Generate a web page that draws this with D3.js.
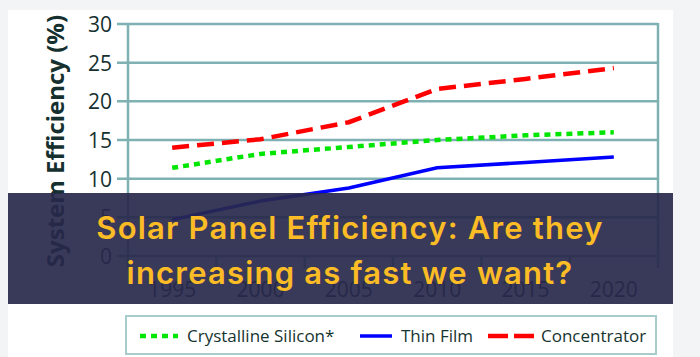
<!DOCTYPE html>
<html><head><meta charset="utf-8">
<script src="https://cdn.jsdelivr.net/npm/d3@7"></script>
<style>html,body{margin:0;padding:0;background:#f3f4f6;}svg{display:block;}</style>
</head><body>
<svg id="c" width="700" height="357"></svg>
<script>
const years = [1995, 2000, 2005, 2010, 2015, 2020];
const yTicks = [0, 5, 10, 15, 20, 25, 30];
const crystalline = [11.4, 13.2, 14.1, 15.0, 15.6, 16.0];
const thinFilm = [4.7, 7.1, 8.8, 11.4, 12.1, 12.8];
const concentrator = [14.0, 15.1, 17.3, 21.6, 22.9, 24.3];
const seriesNames = ["Crystalline Silicon*", "Thin Film", "Concentrator"];
const titleLines = ["Solar Panel Efficiency: Are they", "increasing as fast we want?"];
const yLabel = "System Efficiency (%)";

const svg = d3.select("#c");
const grid = "#7fb0b2";
// card
svg.append("rect").attr("x", 8).attr("y", 10).attr("width", 665).attr("height", 347).attr("fill", "#fff");

const x = d3.scaleBand().domain(years).range([128, 658]);
const y = d3.scaleLinear().domain([0, 30]).range([256, 24]);
const xc = d => x(d) + x.bandwidth() / 2;

// grid lines + y ticks
svg.append("g").selectAll("line").data(yTicks).join("line")
  .attr("x1", 117).attr("x2", 658).attr("y1", d => y(d)).attr("y2", d => y(d))
  .attr("stroke", grid).attr("stroke-width", 2.5);
// left axis
svg.append("line").attr("x1", 128).attr("x2", 128).attr("y1", y(30)).attr("y2", 268)
  .attr("stroke", grid).attr("stroke-width", 2.5);
// right border
svg.append("line").attr("x1", 658).attr("x2", 658).attr("y1", y(30) - 1).attr("y2", 268)
  .attr("stroke", grid).attr("stroke-width", 2.5);
// x ticks at band edges
svg.append("g").selectAll("line").data(years.slice(1)).join("line")
  .attr("x1", d => x(d)).attr("x2", d => x(d)).attr("y1", 256).attr("y2", 268)
  .attr("stroke", grid).attr("stroke-width", 2.5);

// y tick labels
svg.append("g").selectAll("text").data(yTicks).join("text")
  .attr("x", 112).attr("y", d => y(d) + 8).attr("text-anchor", "end")
  .attr("font-family", "Open Sans, sans-serif").attr("font-size", 21).attr("fill", "#15302e")
  .text(d => d);
// x tick labels
svg.append("g").selectAll("text").data(years).join("text")
  .attr("x", d => xc(d)).attr("y", 297).attr("text-anchor", "middle")
  .attr("font-family", "Open Sans, sans-serif").attr("font-size", 21).attr("fill", "#15302e")
  .text(d => d);
// y axis label
svg.append("text").attr("transform", "translate(64,141) rotate(-90)").attr("text-anchor", "middle")
  .attr("font-family", "Open Sans, sans-serif").attr("font-weight", 700).attr("font-size", 24).attr("fill", "#15302e")
  .text(yLabel);

const line = d3.line().x((d, i) => xc(years[i])).y(d => y(d));
const styles = [
  {data: crystalline, color: "#00e600", dash: "6,5", w: 4.5},
  {data: thinFilm, color: "#0000ff", dash: null, w: 3.5},
  {data: concentrator, color: "#ff0000", dash: "17,8", w: 4.5}
];
styles.forEach(s => {
  svg.append("path").attr("d", line(s.data)).attr("fill", "none")
    .attr("stroke", s.color).attr("stroke-width", s.w).attr("stroke-dasharray", s.dash);
});

// legend
svg.append("rect").attr("x", 126).attr("y", 316).attr("width", 530).attr("height", 38)
  .attr("fill", "#fff").attr("stroke", "#a7cccb").attr("stroke-width", 2);
const legPos = [{x1: 140, x2: 178, tx: 187}, {x1: 360, x2: 392, tx: 401}, {x1: 488, x2: 534, tx: 541}];
styles.forEach((s, i) => {
  const p = legPos[i];
  svg.append("line").attr("x1", p.x1).attr("x2", p.x2).attr("y1", 336).attr("y2", 336)
    .attr("stroke", s.color).attr("stroke-width", s.w).attr("stroke-dasharray", i === 2 ? "20,6" : s.dash);
  svg.append("text").attr("x", p.tx).attr("y", 342)
    .attr("font-family", "Open Sans, sans-serif").attr("font-size", 17).attr("fill", "#163430")
    .text(seriesNames[i]);
});

// overlay banner
svg.append("rect").attr("x", 8).attr("y", 193).attr("width", 665).attr("height", 111)
  .attr("fill", "rgb(40,40,75)").attr("opacity", 0.92);
svg.append("g").selectAll("text").data(titleLines).join("text")
  .attr("x", 350).attr("y", (d, i) => 239 + i * 45).attr("text-anchor", "middle")
  .attr("font-family", "Inter, sans-serif").attr("font-weight", 600).attr("font-size", 31)
  .attr("letter-spacing", 1.2).attr("fill", "#fbbc25")
  .text(d => d);
</script>
</body></html>
